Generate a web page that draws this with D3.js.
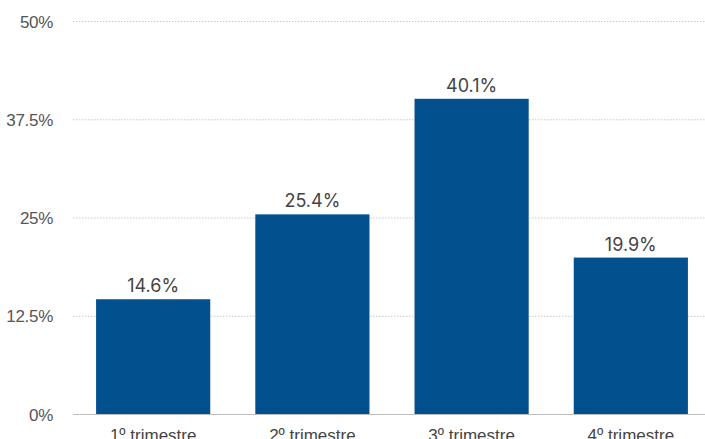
<!DOCTYPE html>
<html>
<head>
<meta charset="utf-8">
<script src="https://cdn.jsdelivr.net/npm/d3@7"></script>
<style>
  html, body { margin: 0; padding: 0; background: #fff; }
  svg { display: block; font-family: Inter, "Noto Sans", sans-serif; }
</style>
</head>
<body>
<svg id="chart" width="705" height="439"></svg>
<script>
// Share of the year by quarter (%)
const categories = ["1º trimestre", "2º trimestre", "3º trimestre", "4º trimestre"];
const values = [14.6, 25.4, 40.1, 19.9];
const tickValues = [0, 12.5, 25, 37.5, 50];
const tickLabels = ["0%", "12.5%", "25%", "37.5%", "50%"];

const svg = d3.select("#chart");
const margin = { left: 73, right: 0, top: 21, bottom: 25 };
const W = 705, H = 439;

const x = d3.scaleBand()
  .domain(categories)
  .range([margin.left, 711])
  .paddingInner(0.283)
  .paddingOuter(0.145);

const y = d3.scaleLinear()
  .domain([0, 50])
  .range([414, margin.top]);

// dotted gridlines
svg.append("g")
  .selectAll("line")
  .data(tickValues.filter(d => d > 0))
  .join("line")
  .attr("x1", margin.left)
  .attr("x2", W)
  .attr("y1", d => y(d) + 0.5)
  .attr("y2", d => y(d) + 0.5)
  .attr("stroke", "#c8c8c8")
  .attr("stroke-width", 1)
  .attr("stroke-dasharray", "1.5,1.5");

// y axis labels
const yAxis = d3.axisLeft(y)
  .tickValues(tickValues)
  .tickFormat((d, i) => tickLabels[i])
  .tickSize(0)
  .tickPadding(0);
const gy = svg.append("g")
  .attr("transform", "translate(53,0)")
  .call(yAxis);
gy.select(".domain").remove();
gy.selectAll("text")
  .attr("fill", "#555")
  .style("font-size", "17px")
  .style("letter-spacing", "-0.3px")
  .attr("dy", "0.36em");

// bars
svg.append("g")
  .selectAll("rect")
  .data(values)
  .join("rect")
  .attr("x", (d, i) => x(categories[i]))
  .attr("width", x.bandwidth())
  .attr("y", d => y(d))
  .attr("height", d => y(0) - y(d))
  .attr("fill", "#03508f");

// baseline
svg.append("line")
  .attr("x1", margin.left)
  .attr("x2", W)
  .attr("y1", y(0) + 0.5)
  .attr("y2", y(0) + 0.5)
  .attr("stroke", "#bdbdbd")
  .attr("stroke-width", 1);

// value labels
svg.append("g")
  .selectAll("text")
  .data(values)
  .join("text")
  .attr("x", (d, i) => x(categories[i]) + x.bandwidth() / 2)
  .attr("y", d => y(d) - 7)
  .attr("text-anchor", "middle")
  .attr("fill", "#444")
  .style("font-size", "18px")
  .text(d => d.toFixed(1) + "%");

// category labels
const xAxis = d3.axisBottom(x).tickSize(0).tickPadding(0);
const gx = svg.append("g")
  .attr("transform", "translate(0,414)")
  .call(xAxis);
gx.select(".domain").remove();
gx.selectAll("text")
  .attr("fill", "#444")
  .attr("y", 27)
  .attr("dy", 0)
  .style("font-size", "17px");
</script>
</body>
</html>
